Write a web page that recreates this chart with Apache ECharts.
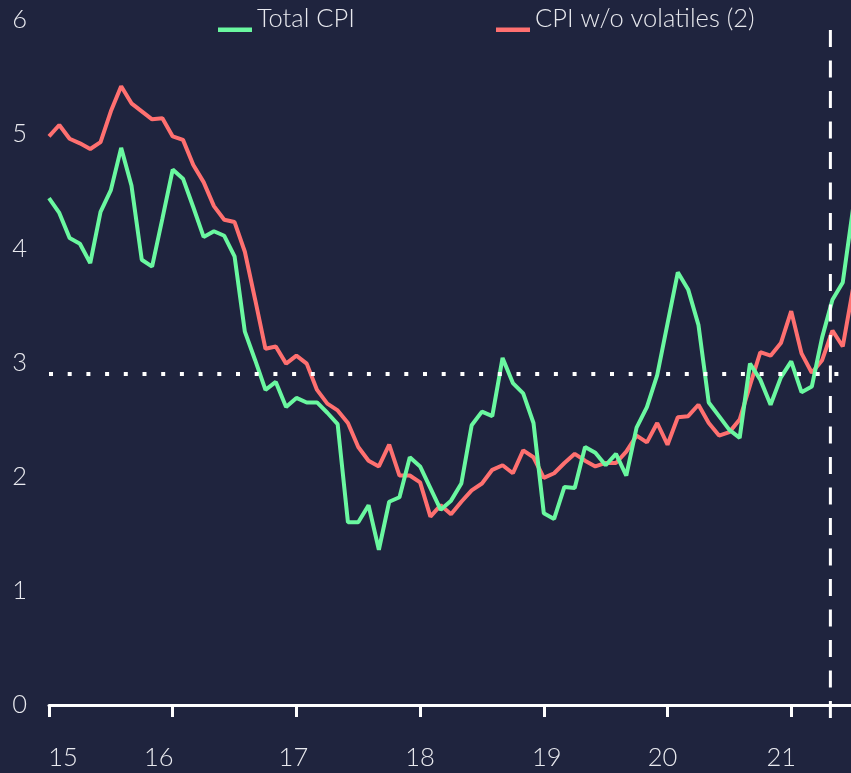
<!DOCTYPE html>
<html>
<head>
<meta charset="utf-8">
<script src="https://cdn.jsdelivr.net/npm/echarts@6/dist/echarts.min.js"></script>
<style>
  html, body { margin: 0; padding: 0; background: #1f243e; }
  #chart { width: 851px; height: 773px; }
</style>
</head>
<body>
<div id="chart"></div>
<script>
// monthly, Jan 2015 .. Jul 2021
const totalCpi = [
  4.44, 4.31, 4.09, 4.04, 3.87, 4.32, 4.51, 4.88, 4.55, 3.90, 3.84, 4.26,
  4.69, 4.61, 4.36, 4.10, 4.15, 4.11, 3.93, 3.27, 3.02, 2.76, 2.83, 2.61,
  2.69, 2.65, 2.65, 2.56, 2.46, 1.60, 1.60, 1.75, 1.36, 1.78, 1.82, 2.17,
  2.09, 1.90, 1.71, 1.79, 1.94, 2.45, 2.57, 2.53, 3.04, 2.82, 2.73, 2.47,
  1.68, 1.63, 1.91, 1.90, 2.26, 2.21, 2.10, 2.20, 2.01, 2.43, 2.61, 2.89,
  3.34, 3.79, 3.64, 3.33, 2.65, 2.53, 2.41, 2.34, 2.99, 2.85, 2.63, 2.87,
  3.01, 2.74, 2.79, 3.22, 3.55, 3.70, 4.35
];
const cpiNoVolatiles = [
  4.98, 5.08, 4.96, 4.92, 4.87, 4.93, 5.20, 5.42, 5.27, 5.20, 5.13, 5.14,
  4.98, 4.95, 4.73, 4.58, 4.37, 4.25, 4.23, 3.97, 3.55, 3.12, 3.14, 2.99,
  3.06, 2.99, 2.76, 2.64, 2.58, 2.47, 2.26, 2.14, 2.09, 2.28, 2.01, 2.01,
  1.95, 1.65, 1.75, 1.67, 1.78, 1.88, 1.94, 2.06, 2.10, 2.03, 2.23, 2.17,
  1.99, 2.03, 2.12, 2.20, 2.14, 2.09, 2.12, 2.12, 2.22, 2.36, 2.30, 2.47,
  2.28, 2.52, 2.53, 2.63, 2.47, 2.36, 2.39, 2.50, 2.80, 3.09, 3.06, 3.17,
  3.45, 3.08, 2.91, 3.02, 3.28, 3.14, 3.65
];
const yearLabels = ['15', '16', '17', '18', '19', '20', '21'];
const seriesNames = ['Total CPI', 'CPI w/o volatiles (2)'];
const targetLevel = 2.9;      // dotted reference
const cutoffMonth = 75.8;     // dashed vertical

const txt = '#e8e9ee';
const font = 'Lato, "Open Sans", sans-serif';
const fw = 300;
const green = '#6af8a0';
const red = '#ff7070';
const fs = 25.5;
// small nudges so year labels sit like the original (px, + = right)
const labelNudge = [14, -14, -3, 0, 3, -5, -10];
// underline-style legend marker (thin top stub keeps the box height)
const legendIcon = 'path://M0,0L34,0L34,0.01L0,0.01Z M0,21.5L34,21.5L34,26L0,26Z';

const toPairs = arr => arr.map((v, i) => [i, v]);

const rich = {};
labelNudge.forEach((n, i) => {
  rich['y' + i] = {
    color: txt, fontSize: fs, fontFamily: font, fontWeight: fw,
    padding: n >= 0 ? [0, 0, 0, 2 * n] : [0, -2 * n, 0, 0]
  };
});

const legendBase = {
  top: 6, padding: 0,
  icon: legendIcon, itemWidth: 34, itemHeight: 26, itemGap: 5,
  textStyle: { color: txt, fontSize: fs, fontFamily: font, fontWeight: fw }
};

const chart = echarts.init(document.getElementById('chart'));
chart.setOption({
  backgroundColor: '#1f243e',
  animation: false,
  textStyle: { fontFamily: font },
  grid: [
    { left: 49, right: 0, top: 20, bottom: 68 },
    { left: 49, right: 0, top: 30, bottom: 55 }
  ],
  legend: [
    Object.assign({}, legendBase, { data: [seriesNames[0]], left: 218 }),
    Object.assign({}, legendBase, { data: [seriesNames[1]], left: 496 })
  ],
  xAxis: [
    {
      type: 'value',
      min: 0,
      max: 77.8,
      interval: 12,
      offset: 11,
      splitLine: { show: false },
      axisLine: { show: true, lineStyle: { color: '#ffffff', width: 3 } },
      axisTick: { show: true, length: 12, lineStyle: { color: '#ffffff', width: 3 } },
      axisLabel: {
        color: txt, fontSize: fs, fontWeight: fw, margin: 29,
        showMaxLabel: false,
        formatter: v => {
          const i = Math.round(v / 12);
          return yearLabels[i] ? '{y' + i + '|' + yearLabels[i] + '}' : '';
        },
        rich: rich
      }
    },
    { gridIndex: 1, type: 'value', min: 0, max: 77.8, show: false }
  ],
  yAxis: [
    {
      type: 'value',
      min: 0,
      max: 6,
      interval: 1,
      splitLine: { show: false },
      axisLine: { show: false },
      axisTick: { show: false },
      axisLabel: { color: txt, fontSize: fs, fontWeight: fw, margin: 22 }
    },
    { gridIndex: 1, type: 'value', min: 0, max: 1, show: false }
  ],
  series: [
    {
      name: seriesNames[0],
      type: 'line',
      data: toPairs(totalCpi),
      showSymbol: false,
      color: green,
      lineStyle: { color: green, width: 4 },
      z: 3
    },
    {
      name: seriesNames[1],
      type: 'line',
      data: toPairs(cpiNoVolatiles),
      showSymbol: false,
      color: red,
      lineStyle: { color: red, width: 4 },
      z: 2,
      markLine: {
        silent: true,
        symbol: 'none',
        label: { show: false },
        lineStyle: { color: '#ffffff', width: 4, type: [4, 14.7], cap: 'butt' },
        data: [
          [ { coord: [0, targetLevel] }, { coord: [77.3, targetLevel] } ]
        ]
      }
    },
    {
      // dashed cut-off marker, on its own taller grid
      name: 'cutoff',
      type: 'line',
      xAxisIndex: 1,
      yAxisIndex: 1,
      data: [[cutoffMonth, 1], [cutoffMonth, 0]],
      showSymbol: false,
      silent: true,
      lineStyle: { color: '#ffffff', width: 3, type: [17, 13.5], cap: 'butt' },
      z: 4
    }
  ]
});
</script>
</body>
</html>
